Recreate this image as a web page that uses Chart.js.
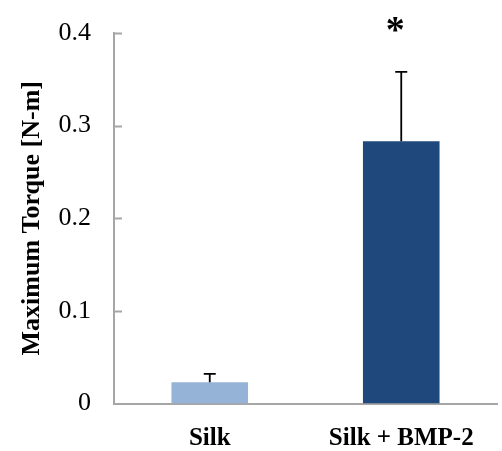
<!DOCTYPE html>
<html>
<head>
<meta charset="utf-8">
<script src="https://cdn.jsdelivr.net/npm/chart.js@4"></script>
<style>
html,body{margin:0;padding:0;background:#fff;}
#wrap{width:502px;height:451px;}
</style>
</head>
<body>
<div id="wrap"><canvas id="c" width="502" height="451"></canvas></div>
<script>
const categories = ['Silk', 'Silk + BMP-2'];
const means = [0.023, 0.283];
const errors = [0.009, 0.075];
const significance = ['', '*'];
const yTickValues = [0, 0.1, 0.2, 0.3, 0.4];
const barColors = ['#95B3D7', '#1F497D'];

const axisGrey = '#a6a6a6';

const extrasPlugin = {
  id: 'extras',
  afterDatasetsDraw(chart) {
    const ctx = chart.ctx;
    const ys = chart.scales.y;
    const meta = chart.getDatasetMeta(0);
    ctx.save();
    // inner tick marks
    ctx.strokeStyle = axisGrey;
    ctx.lineWidth = 2;
    yTickValues.forEach(v => {
      if (v === 0) return;
      const y = Math.round(ys.getPixelForValue(v)) + 0.5;
      ctx.beginPath();
      ctx.moveTo(chart.chartArea.left, y);
      ctx.lineTo(chart.chartArea.left + 8, y);
      ctx.stroke();
    });
    // error bars
    ctx.strokeStyle = '#000';
    ctx.lineWidth = 1.8;
    meta.data.forEach((bar, i) => {
      const x = bar.x;
      const yTop = ys.getPixelForValue(means[i] + errors[i]);
      const yMean = ys.getPixelForValue(means[i]);
      ctx.beginPath();
      ctx.moveTo(x, yMean);
      ctx.lineTo(x, yTop);
      ctx.moveTo(x - 6, yTop);
      ctx.lineTo(x + 6, yTop);
      ctx.stroke();
      if (significance[i]) {
        ctx.fillStyle = '#000';
        ctx.font = 'bold 38px "Liberation Serif", "Times New Roman", serif';
        ctx.textAlign = 'center';
        ctx.textBaseline = 'alphabetic';
        ctx.fillText(significance[i], x - 6, yTop - 30);
      }
    });
    ctx.restore();
  }
};

new Chart(document.getElementById('c'), {
  type: 'bar',
  data: {
    labels: categories,
    datasets: [{
      data: means,
      backgroundColor: barColors,
      borderWidth: 0,
      categoryPercentage: 1,
      barPercentage: 0.4
    }]
  },
  options: {
    responsive: false,
    animation: false,
    devicePixelRatio: 1,
    layout: { padding: { top: 33, right: 5, left: 0, bottom: 0 } },
    plugins: { legend: { display: false }, tooltip: { enabled: false } },
    scales: {
      x: {
        grid: { display: false, drawTicks: false },
        border: { color: axisGrey, width: 2 },
        ticks: {
          color: '#000',
          padding: 20,
          font: { family: '"Liberation Serif", "Times New Roman", serif', size: 25, weight: 'bold' }
        },
        afterFit(s) { s.height = 47.5; }
      },
      y: {
        min: 0,
        max: 0.4,
        grid: { display: false, drawTicks: false },
        border: { color: axisGrey, width: 2 },
        afterBuildTicks(s) { s.ticks = yTickValues.map(v => ({ value: v })); },
        ticks: {
          color: '#000',
          padding: 23,
          font: { family: '"Liberation Serif", "Times New Roman", serif', size: 26, lineHeight: 0.7 },
          callback: v => (v === 0 ? '0' : Number(v).toFixed(1))
        },
        title: {
          display: true,
          text: 'Maximum Torque [N-m]',
          color: '#000',
          padding: { top: 17, bottom: 0 },
          font: { family: '"Liberation Serif", "Times New Roman", serif', size: 26, weight: 'bold' }
        },
        afterFit(s) { s.width = 114; }
      }
    }
  },
  plugins: [extrasPlugin]
});
</script>
</body>
</html>
